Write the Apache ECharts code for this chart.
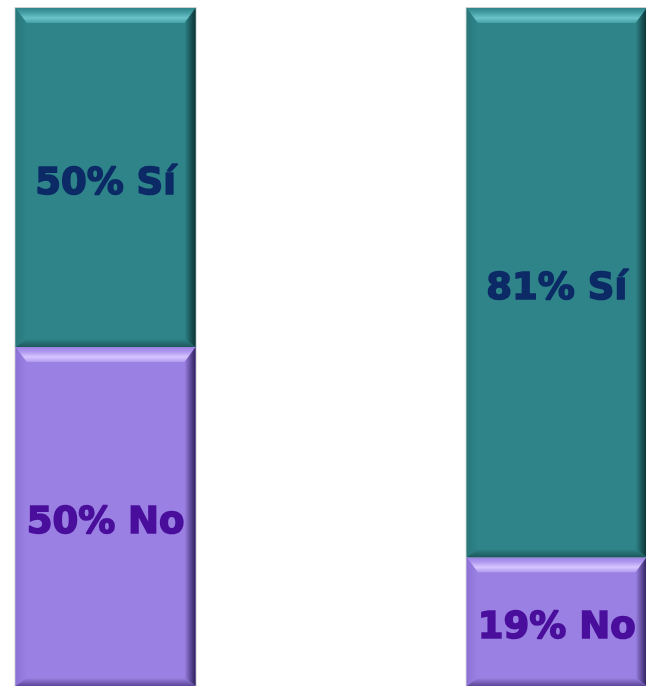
<!DOCTYPE html>
<html>
<head>
<meta charset="utf-8" />
<title>Sí / No</title>
<script src="https://cdn.jsdelivr.net/npm/echarts@6/dist/echarts.min.js"></script>
<style>
  html, body { margin: 0; padding: 0; background: #fff; }
  #main { width: 646px; height: 687px; }
</style>
</head>
<body>
<div id="main"></div>
<script>
// datos
const categories = ['Grupo 1', 'Grupo 2'];
const si = [50, 81];
const no = [50, 19];

// estilos por serie (base, bisel claro, bisel oscuro, texto)
const teal = { base: '#2e8489', light: '#6cc3c9', mid: '#45a0a6', dark: '#0b3234', bottom: '#1d5659', left: '#28777b', text: '#0c2a66' };
const lila = { base: '#9a80e2', light: '#d6c6ff', mid: '#b09af0', dark: '#2e1f5c', bottom: '#5b4797', left: '#8c72d4', text: '#4a0e9c' };

function lg(x, y, x2, y2, stops) {
    return new echarts.graphic.LinearGradient(x, y, x2, y2, stops.map((c, i) => ({ offset: i / (stops.length - 1), color: c })));
}

// barra con bisel
function makeRender(pal, suffix) {
    return function (params, api) {
        const c = api.value(0);
        const p0 = api.coord([c, api.value(1)]);
        const p1 = api.coord([c, api.value(2)]);
        const w = 180;
        const x = p0[0] - w / 2;
        const yTop = p1[1];
        const yBot = p0[1];
        const h = yBot - yTop;
        const b = 11, bt = 15, bb = 8;
        const pct = api.value(2) - api.value(1);
        return {
            type: 'group',
            children: [
                { type: 'rect', shape: { x: x - 1, y: yTop - 1, width: w + 2, height: h + 1 }, style: { fill: '#cfcfcf' } },
                { type: 'rect', shape: { x: x, y: yTop, width: w, height: h }, style: { fill: pal.base } },
                { type: 'polygon', shape: { points: [[x, yTop], [x + w, yTop], [x + w - b, yTop + bt], [x + b, yTop + bt]] },
                  style: { fill: lg(0, 0, 0, 1, [pal.base, pal.mid, pal.light, pal.mid]) } },
                { type: 'polygon', shape: { points: [[x, yTop], [x + b, yTop + bt], [x + b, yBot - bb], [x, yBot]] },
                  style: { fill: lg(0, 0, 1, 0, [pal.left, pal.base]) } },
                { type: 'polygon', shape: { points: [[x + w, yTop], [x + w, yBot], [x + w - b, yBot - bb], [x + w - b, yTop + bt]] },
                  style: { fill: lg(0, 0, 1, 0, [pal.base, pal.dark]) } },
                { type: 'polygon', shape: { points: [[x, yBot], [x + w, yBot], [x + w - b, yBot - bb], [x + b, yBot - bb]] },
                  style: { fill: lg(0, 0, 0, 1, [pal.base, pal.bottom]) } },
                { type: 'text', style: {
                    text: pct + '% ' + suffix,
                    x: p0[0], y: (yTop + yBot) / 2 + 7,
                    align: 'center', verticalAlign: 'middle',
                    fontSize: 37, fontWeight: 'bold', fontFamily: 'DejaVu Sans',
                    fill: pal.text, stroke: pal.text, lineWidth: 1.6
                } }
            ]
        };
    };
}

const noData = no.map((v, i) => [i, 0, v]);
const siData = si.map((v, i) => [i, no[i], no[i] + v]);

const chart = echarts.init(document.getElementById('main'));
chart.setOption({
    animation: false,
    grid: { left: 0, right: 0, top: 8, bottom: 1 },
    // eje x numérico sobre los índices de categoría, para situar las dos barras
    xAxis: { type: 'value', min: -0.234, max: 1.198, show: false },
    yAxis: { type: 'value', min: 0, max: 100, show: false },
    series: [
        { name: 'No', type: 'custom', data: noData, encode: { x: 0, y: [1, 2] }, renderItem: makeRender(lila, 'No') },
        { name: 'Sí', type: 'custom', data: siData, encode: { x: 0, y: [1, 2] }, renderItem: makeRender(teal, 'Sí') }
    ]
});
</script>
</body>
</html>
